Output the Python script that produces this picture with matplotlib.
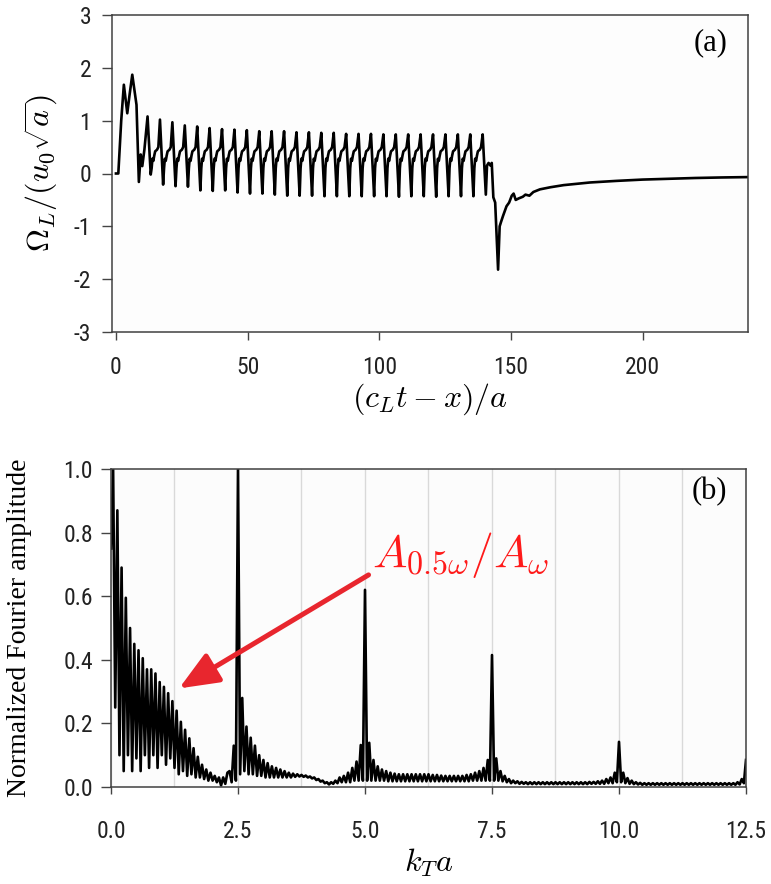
import matplotlib
matplotlib.use("Agg")
import matplotlib.pyplot as plt
import numpy as np

matplotlib.rcParams['axes.unicode_minus'] = False
matplotlib.rcParams['mathtext.fontset'] = 'cm'

TICK_FONT = ['Roboto Condensed', 'Liberation Sans Narrow', 'Roboto', 'DejaVu Sans']
SERIF = ['Liberation Serif', 'DejaVu Serif']

# ---------------- panel (a): rotation signal ----------------
# start-up transient
head_t = [0.0, 0.9, 2.0, 3.0, 4.3, 5.2, 6.2, 7.2, 7.8, 8.7, 9.4, 10.0, 10.8]
head_v = [0.0, 0.0, 1.0, 1.68, 1.14, 1.5, 1.87, 1.52, 1.3, -0.16, 0.36, 0.14, 0.45]

# steady part: one spike per period, heights and following troughs
first_spike = 12.0
period = 4.713
spike_v = [1.08, 1.02, 0.97, 0.91, 0.89, 0.86, 0.84, 0.83, 0.82, 0.80,
           0.80, 0.80, 0.78, 0.78, 0.77, 0.77, 0.75, 0.75, 0.75, 0.74,
           0.74, 0.74, 0.74, 0.74, 0.74, 0.74, 0.74, 0.74]
trough_v = [-0.02, -0.21, -0.24, -0.25, -0.32, -0.33, -0.32, -0.36, -0.38, -0.38,
            -0.40, -0.42, -0.42, -0.42, -0.43, -0.43, -0.43, -0.43, -0.43, -0.43,
            -0.44, -0.43, -0.43, -0.44, -0.43, -0.43, -0.43, -0.40]
# shape between trough and next spike (offset after spike, value)
shape_dt = [1.55, 1.85, 2.20, 2.55, 2.90, 3.60, 4.10]
shape_v = [0.10, 0.28, 0.24, 0.34, 0.42, 0.45, 0.50]
trough_dt = 1.2

# after the wave packet has passed
tail_t = [140.9, 141.5, 142.2, 142.7, 143.3, 144.0, 145.1, 145.7, 146.2, 147.0,
          148.3, 149.3, 150.3, 151.0, 151.8, 153.0, 154.5, 155.5, 157.0, 158.5,
          161.0, 165.0, 170.0, 180.0, 190.0, 200.0, 210.0, 220.0, 230.0, 240.0]
tail_v = [0.15, 0.20, 0.15, 0.20, -0.45, -0.55, -1.82, -1.00, -0.92, -0.80,
          -0.62, -0.55, -0.42, -0.38, -0.50, -0.47, -0.44, -0.40, -0.42, -0.35,
          -0.30, -0.26, -0.22, -0.17, -0.14, -0.115, -0.10, -0.085, -0.075, -0.068]

# ---------------- panel (b): spectrum ----------------
# amplitude read at every half ripple (step 12.5/300), split by harmonic
amp_0_25 = [
    0.75, 1.00, 0.25, 0.87, 0.10, 0.69, 0.05, 0.595, 0.10, 0.50,
    0.05, 0.45, 0.09, 0.43, 0.05, 0.405, 0.10, 0.37, 0.06, 0.37,
    0.10, 0.357, 0.06, 0.33, 0.10, 0.315, 0.07, 0.295, 0.09, 0.27,
    0.06, 0.24, 0.04, 0.205, 0.05, 0.18, 0.035, 0.153, 0.04, 0.122,
    0.03, 0.095, 0.03, 0.07, 0.025, 0.055, 0.02, 0.045, 0.02, 0.035,
    0.015, 0.03, 0.005, 0.03, 0.01, 0.045, 0.05, 0.015, 0.13, 0.02,
]
amp_25_50 = [
    1.00, 0.04, 0.28, 0.05, 0.19, 0.04, 0.155, 0.04, 0.13, 0.035,
    0.10, 0.035, 0.085, 0.03, 0.075, 0.03, 0.065, 0.03, 0.06, 0.03,
    0.055, 0.03, 0.05, 0.03, 0.045, 0.03, 0.042, 0.032, 0.04, 0.033,
    0.038, 0.032, 0.036, 0.03, 0.033, 0.027, 0.03, 0.022, 0.025, 0.017,
    0.02, 0.012, 0.015, 0.008, 0.015, 0.01, 0.02, 0.012, 0.03, 0.015,
    0.035, 0.015, 0.045, 0.015, 0.06, 0.02, 0.08, 0.02, 0.132, 0.02,
]
amp_50_75 = [
    0.62, 0.02, 0.139, 0.02, 0.085, 0.02, 0.065, 0.02, 0.055, 0.02,
    0.05, 0.018, 0.045, 0.018, 0.042, 0.018, 0.04, 0.018, 0.04, 0.018,
    0.04, 0.018, 0.04, 0.018, 0.04, 0.018, 0.04, 0.018, 0.04, 0.018,
    0.04, 0.018, 0.038, 0.018, 0.038, 0.018, 0.036, 0.018, 0.035, 0.018,
    0.035, 0.018, 0.035, 0.018, 0.035, 0.018, 0.035, 0.018, 0.038, 0.018,
    0.04, 0.02, 0.045, 0.02, 0.05, 0.02, 0.06, 0.02, 0.085, 0.02,
]
amp_75_100 = [
    0.415, 0.02, 0.09, 0.02, 0.05, 0.018, 0.035, 0.015, 0.025, 0.012,
    0.02, 0.012, 0.018, 0.01, 0.016, 0.01, 0.015, 0.009, 0.015, 0.009,
    0.015, 0.009, 0.015, 0.009, 0.015, 0.009, 0.015, 0.009, 0.015, 0.009,
    0.015, 0.009, 0.015, 0.009, 0.015, 0.009, 0.015, 0.009, 0.015, 0.009,
    0.015, 0.009, 0.015, 0.009, 0.015, 0.009, 0.016, 0.01, 0.016, 0.01,
    0.018, 0.01, 0.02, 0.01, 0.025, 0.012, 0.03, 0.012, 0.045, 0.015,
]
amp_100_125 = [
    0.142, 0.015, 0.045, 0.012, 0.028, 0.01, 0.02, 0.009, 0.015, 0.008,
    0.013, 0.007, 0.012, 0.007, 0.012, 0.007, 0.012, 0.007, 0.012, 0.007,
    0.012, 0.007, 0.012, 0.007, 0.012, 0.007, 0.012, 0.007, 0.012, 0.007,
    0.012, 0.007, 0.012, 0.007, 0.012, 0.007, 0.012, 0.007, 0.012, 0.007,
    0.012, 0.007, 0.012, 0.007, 0.012, 0.007, 0.012, 0.007, 0.012, 0.007,
    0.012, 0.007, 0.012, 0.007, 0.012, 0.007, 0.015, 0.008, 0.025, 0.012,
    0.085,
]
for seg in (amp_0_25, amp_25_50, amp_50_75, amp_75_100):
    assert len(seg) == 60, len(seg)
amp = amp_0_25 + amp_25_50 + amp_50_75 + amp_75_100 + amp_100_125
assert len(amp) == 301, len(amp)

# ---------------- build panel (a) curve ----------------
t = list(head_t)
v = list(head_v)
for i, (h, lo) in enumerate(zip(spike_v, trough_v)):
    t0 = first_spike + i * period
    t += [t0, t0 + trough_dt]
    v += [h, lo]
    if i < len(spike_v) - 1:
        t += [t0 + d for d in shape_dt]
        v += shape_v
t += tail_t
v += tail_v

fig = plt.figure(figsize=(7.71, 8.84), dpi=100)
fig.patch.set_facecolor('white')

ax1 = fig.add_axes([112 / 771, 1 - 332 / 884, 636 / 771, 317 / 884])
ax1.set_facecolor('#fdfdfd')
ax1.plot(t, v, color='black', lw=1.9, solid_joinstyle='round')
ax1.set_xlim(-1.5, 240)
ax1.set_ylim(-3, 3)
ax1.set_xticks([0, 50, 100, 150, 200])
ax1.set_yticks([-3, -2, -1, 0, 1, 2, 3])
ax1.tick_params(axis='x', length=6, width=1, color='#444444', pad=11)
ax1.tick_params(axis='y', length=7, width=1, color='#444444', pad=8)
for lab in ax1.get_xticklabels() + ax1.get_yticklabels():
    lab.set_family(TICK_FONT)
    lab.set_fontsize(17)
    lab.set_color('#222222')
for sp in ax1.spines.values():
    sp.set_color('#404040')
    sp.set_linewidth(1.1)
ax1.set_ylabel(r'$\Omega_L/(u_0\sqrt{a})$', fontsize=23)
ax1.yaxis.set_label_coords(-0.082, 0.5)
ax1.set_xlabel(r'$(c_Lt-x)/a$', fontsize=23, labelpad=2)
ax1.text(0.967, 0.912, '(a)', transform=ax1.transAxes, ha='right', va='center',
         family=SERIF, fontsize=22)

# ---------------- panel (b) ----------------
k = np.linspace(0, 12.5, len(amp))
ax2 = fig.add_axes([111 / 771, 1 - 787 / 884, 635 / 771, 318 / 884])
ax2.set_facecolor('#fcfcfc')
ax2.set_xticks(np.arange(0, 12.51, 1.25), minor=True)
ax2.grid(True, which='both', axis='x', color='#d9d9d9', lw=1.0)
ax2.set_axisbelow(True)
ax2.plot(k, amp, color='black', lw=1.9, solid_joinstyle='round')
ax2.set_xlim(0, 12.5)
ax2.set_ylim(0, 1.0)
ax2.set_xticks([0, 2.5, 5.0, 7.5, 10.0, 12.5])
ax2.set_xticklabels(['0.0', '2.5', '5.0', '7.5', '10.0', '12.5'])
ax2.set_yticks([0, 0.2, 0.4, 0.6, 0.8, 1.0])
ax2.set_yticklabels(['0.0', '0.2', '0.4', '0.6', '0.8', '1.0'])
ax2.tick_params(axis='x', which='major', length=5, width=1, color='#444444', pad=19)
ax2.tick_params(axis='x', which='minor', length=0)
ax2.tick_params(axis='y', length=7, width=1, color='#444444', pad=6)
for lab in ax2.get_xticklabels() + ax2.get_yticklabels():
    lab.set_family(TICK_FONT)
    lab.set_fontsize(17)
    lab.set_color('#222222')
for sp in ax2.spines.values():
    sp.set_color('#404040')
    sp.set_linewidth(1.1)
ax2.set_ylabel('Normalized Fourier amplitude', family=SERIF, fontsize=20)
ax2.yaxis.set_label_coords(-0.124, 0.5)
ax2.set_xlabel(r'$k_Ta$', fontsize=23, labelpad=2)
ax2.text(0.970, 0.928, '(b)', transform=ax2.transAxes, ha='right', va='center',
         family=SERIF, fontsize=22)

ax2.annotate('', xy=(1.34, 0.31), xytext=(5.07, 0.667),
             arrowprops=dict(arrowstyle='-|>,head_length=1.2,head_width=0.5',
                             mutation_scale=20, lw=3.6, color='#e8262e',
                             shrinkA=0, shrinkB=0))
ax2.text(5.14, 0.73, r'$A_{0.5\omega}/A_\omega$', color='#ff1a1a', fontsize=33,
         ha='left', va='center')

fig.savefig('out.png', dpi=100, facecolor='white')
